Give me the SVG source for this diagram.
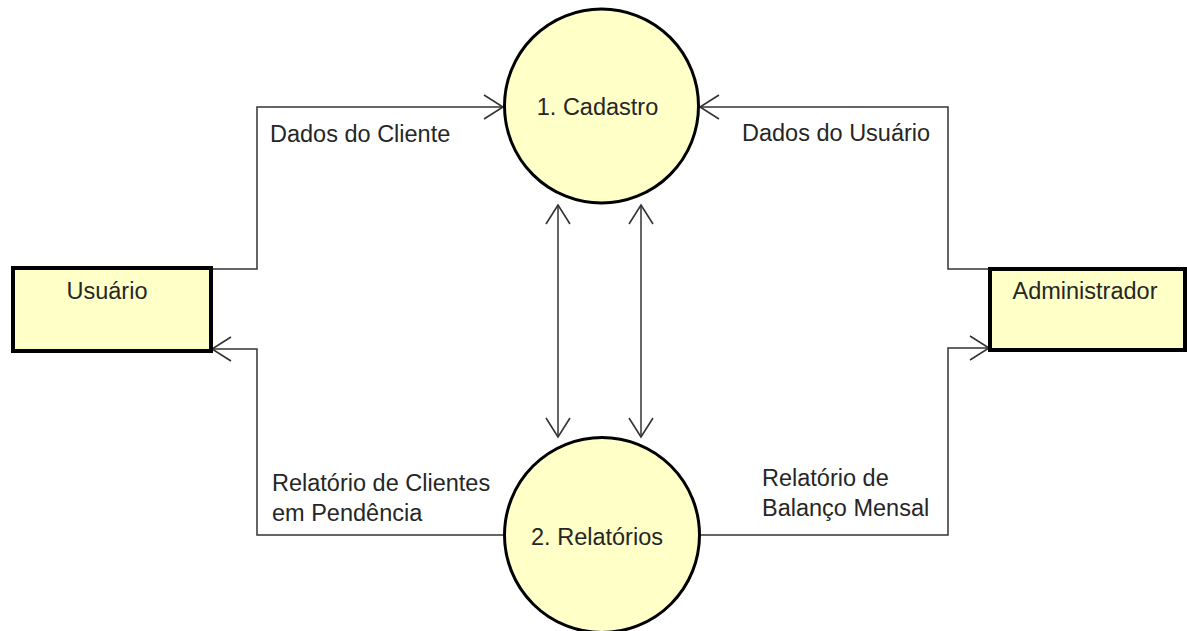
<svg xmlns="http://www.w3.org/2000/svg" width="1187" height="631" viewBox="0 0 1187 631">
<style>
.bg{fill:#ffffff}
.proc{fill:#ffffc8;stroke:#000;stroke-width:3}
.ent{fill:#ffffc8;stroke:#000;stroke-width:4}
.t{font-family:"Liberation Sans",Arial,sans-serif;font-size:23.5px;fill:#262626}
.conn{fill:none;stroke:#333;stroke-width:1.5}
</style>
<defs>
<marker id="arr" markerUnits="userSpaceOnUse" viewBox="-22 -14 24 28" refX="0" refY="0" markerWidth="24" markerHeight="28" orient="auto-start-reverse" overflow="visible">
<path d="M-19,-12 L0,0 L-19,12" fill="none" stroke="#333" stroke-width="1.6"/>
</marker>
</defs>
<rect class="bg" x="0" y="0" width="1187" height="631"/>
<g id="connectors">
<path class="conn" d="M211 269 H257 V107 H503" marker-end="url(#arr)"/>
<path class="conn" d="M503 535 H257 V349 H212" marker-end="url(#arr)"/>
<path class="conn" d="M990 269 H948 V107 H700" marker-end="url(#arr)"/>
<path class="conn" d="M701 535 H948 V348 H989" marker-end="url(#arr)"/>
<path class="conn" d="M558 205 V437" marker-start="url(#arr)" marker-end="url(#arr)"/>
<path class="conn" d="M641 205 V437" marker-start="url(#arr)" marker-end="url(#arr)"/>
<text class="t" x="270" y="142">Dados do Cliente</text>
<text class="t" x="742" y="141">Dados do Usuário</text>
<text class="t" x="272" y="491">Relatório de Clientes</text>
<text class="t" x="272" y="521">em Pendência</text>
<text class="t" x="762" y="486">Relatório de</text>
<text class="t" x="762" y="516">Balanço Mensal</text>
</g>
<g id="cadastro">
<circle class="proc" cx="601.5" cy="106" r="97"/>
<text class="t" x="597.5" y="115" text-anchor="middle">1. Cadastro</text>
</g>
<g id="relatorios">
<circle class="proc" cx="602" cy="535" r="97.5"/>
<text class="t" x="597" y="545" text-anchor="middle">2. Relatórios</text>
</g>
<g id="usuario">
<rect class="ent" x="13" y="268" width="198" height="83"/>
<text class="t" x="107" y="299" text-anchor="middle">Usuário</text>
</g>
<g id="administrador">
<rect class="ent" x="990" y="269" width="195" height="81"/>
<text class="t" x="1085" y="299" text-anchor="middle">Administrador</text>
</g>
</svg>
